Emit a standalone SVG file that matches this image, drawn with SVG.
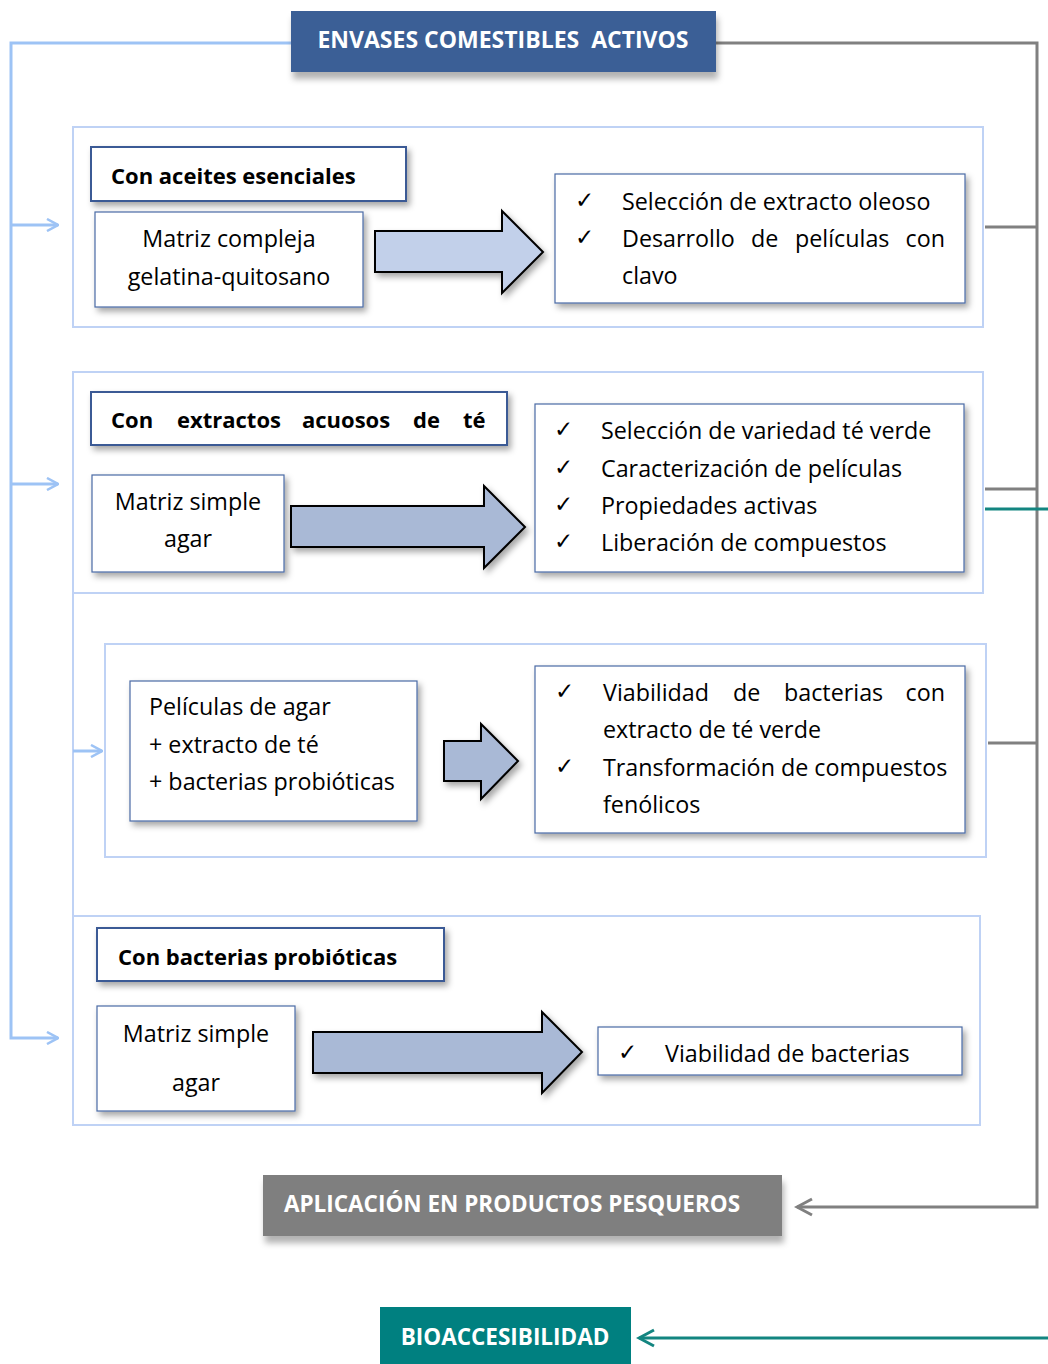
<svg xmlns="http://www.w3.org/2000/svg" width="1048" height="1364" viewBox="0 0 1048 1364">
<defs>
<filter id="sh" x="-10%" y="-20%" width="130%" height="150%"><feDropShadow dx="3" dy="4" stdDeviation="3" flood-color="#000" flood-opacity="0.35"/></filter>
<filter id="sh2" x="-10%" y="-20%" width="130%" height="160%"><feDropShadow dx="2" dy="7" stdDeviation="3" flood-color="#000" flood-opacity="0.3"/></filter>
<marker id="ab" markerWidth="14" markerHeight="14" refX="13" refY="7" orient="auto" markerUnits="userSpaceOnUse"><path d="M2,1 L13,7 L2,13" fill="none" stroke="#9DC3F5" stroke-width="2.5"/></marker>
<marker id="ag" markerWidth="20" markerHeight="20" refX="17" refY="10" orient="auto" markerUnits="userSpaceOnUse"><path d="M2,2 L17,10 L2,18" fill="none" stroke="#808080" stroke-width="3"/></marker>
<marker id="at" markerWidth="20" markerHeight="20" refX="17" refY="10" orient="auto" markerUnits="userSpaceOnUse"><path d="M2,2 L17,10 L2,18" fill="none" stroke="#138580" stroke-width="3"/></marker>
</defs>
<style>
text{font-family:"Open Sans","Liberation Sans",sans-serif;fill:#000}
.t{font-size:23.3px}
.h{font-size:22px;font-weight:bold}
.w{fill:#fff;font-weight:bold;font-size:22.5px;white-space:pre}
.grp{fill:#fff;stroke:#BFD2F5;stroke-width:2}
.hd{fill:#fff;stroke:#3B5A95;stroke-width:2}
.bx{fill:#fff;stroke:#4A6AA5;stroke-width:1.2}
.arr{stroke:#000;stroke-width:2}
.lb{fill:none;stroke:#9DC3F5;stroke-width:3}
.lg{fill:none;stroke:#808080;stroke-width:3}
.lt{fill:none;stroke:#138580;stroke-width:3}
</style>
<rect width="1048" height="1364" fill="#fff"/>
<g id="connectors">
<polyline class="lb" points="291,43 11,43 11,1038 58,1038" marker-end="url(#ab)"/>
<line class="lb" x1="11" y1="225" x2="58" y2="225" marker-end="url(#ab)"/>
<line class="lb" x1="11" y1="484" x2="58" y2="484" marker-end="url(#ab)"/>
<line x1="73" y1="593" x2="73" y2="916" stroke="#BFD2F5" stroke-width="2"/>
<line class="lb" x1="73" y1="751" x2="102" y2="751" stroke-width="2" marker-end="url(#ab)"/>
<polyline class="lg" points="716,43 1037,43 1037,1207 797,1207" marker-end="url(#ag)"/>
<line class="lg" x1="985" y1="227" x2="1037" y2="227"/>
<line class="lg" x1="985" y1="489" x2="1037" y2="489"/>
<line class="lg" x1="988" y1="743" x2="1037" y2="743"/>
<line class="lt" x1="985" y1="509" x2="1048" y2="509"/>
<line class="lt" x1="1048" y1="1338" x2="639" y2="1338" marker-end="url(#at)"/>
</g>
<g id="title" filter="url(#sh2)"><rect x="291" y="11" width="425" height="61" fill="#3A5F96"/></g>
<text class="w" x="503" y="48" text-anchor="middle" style="font-size:23px">ENVASES COMESTIBLES  ACTIVOS</text>

<g id="g1">
<rect class="grp" x="73" y="127" width="910" height="200"/>
<rect class="hd" x="91" y="147" width="315" height="54" filter="url(#sh)"/>
<text class="h" x="111" y="184">Con aceites esenciales</text>
<rect class="bx" x="95" y="212" width="268" height="95" filter="url(#sh)"/>
<text class="t" x="229" y="247" text-anchor="middle">Matriz compleja</text>
<text class="t" x="229" y="285" text-anchor="middle">gelatina-quitosano</text>
<path class="arr" d="M375,231 H502 V211 L543,252 L502,293 V272 H375 Z" fill="#C2D0EA" filter="url(#sh)"/>
<rect class="bx" x="555" y="174" width="410" height="129" filter="url(#sh)"/>
<text class="t" x="575" y="208">✓</text><text class="t" x="622" y="210">Selección de extracto oleoso</text>
<text class="t" x="575" y="245">✓</text>
<text class="t" x="622" y="247">Desarrollo</text><text class="t" x="751" y="247">de</text><text class="t" x="795" y="247">películas</text><text class="t" x="945" y="247" text-anchor="end">con</text>
<text class="t" x="622" y="284">clavo</text>
</g>

<g id="g2">
<rect class="grp" x="73" y="372" width="910" height="221"/>
<rect class="hd" x="91" y="392" width="416" height="53" filter="url(#sh)"/>
<text class="h" y="428"><tspan x="111">Con</tspan><tspan x="177">extractos</tspan><tspan x="302">acuosos</tspan><tspan x="413">de</tspan><tspan x="463">té</tspan></text>
<rect class="bx" x="92" y="475" width="192" height="97" filter="url(#sh)"/>
<text class="t" x="188" y="510" text-anchor="middle">Matriz simple</text>
<text class="t" x="188" y="547" text-anchor="middle">agar</text>
<path class="arr" d="M291,506 H484 V486 L525,527 L484,568 V547 H291 Z" fill="#A9B9D6" filter="url(#sh)"/>
<rect class="bx" x="535" y="404" width="429" height="168" filter="url(#sh)"/>
<text class="t" x="554" y="437">✓</text><text class="t" x="601" y="439">Selección de variedad té verde</text>
<text class="t" x="554" y="475">✓</text><text class="t" x="601" y="477">Caracterización de películas</text>
<text class="t" x="554" y="512">✓</text><text class="t" x="601" y="514">Propiedades activas</text>
<text class="t" x="554" y="549">✓</text><text class="t" x="601" y="551">Liberación de compuestos</text>
</g>

<g id="g3">
<rect class="grp" x="105" y="644" width="881" height="213"/>
<rect class="bx" x="130" y="681" width="287" height="140" filter="url(#sh)"/>
<text class="t" x="149" y="715">Películas de agar</text>
<text class="t" x="149" y="753">+ extracto de té</text>
<text class="t" x="149" y="790">+ bacterias probióticas</text>
<path class="arr" d="M444,741 H481 V724 L518,761 L481,799 V781 H444 Z" fill="#A9B9D6" filter="url(#sh)"/>
<rect class="bx" x="535" y="666" width="430" height="167" filter="url(#sh)"/>
<text class="t" x="555" y="699">✓</text>
<text class="t" x="603" y="701">Viabilidad</text><text class="t" x="733" y="701">de</text><text class="t" x="784" y="701">bacterias</text><text class="t" x="945" y="701" text-anchor="end">con</text>
<text class="t" x="603" y="738">extracto de té verde</text>
<text class="t" x="555" y="774">✓</text><text class="t" x="603" y="776">Transformación de compuestos</text>
<text class="t" x="603" y="813">fenólicos</text>
</g>

<g id="g4">
<rect class="grp" x="73" y="916" width="907" height="209"/>
<rect class="hd" x="97" y="928" width="347" height="53" filter="url(#sh)"/>
<text class="h" x="118" y="965">Con bacterias probióticas</text>
<rect class="bx" x="97" y="1006" width="198" height="105" filter="url(#sh)"/>
<text class="t" x="196" y="1042" text-anchor="middle">Matriz simple</text>
<text class="t" x="196" y="1091" text-anchor="middle">agar</text>
<path class="arr" d="M313,1032 H542 V1012 L582,1052 L542,1093 V1073 H313 Z" fill="#A9B9D6" filter="url(#sh)"/>
<rect class="bx" x="598" y="1027" width="364" height="48" filter="url(#sh)"/>
<text class="t" x="618" y="1060">✓</text><text class="t" x="665" y="1062">Viabilidad de bacterias</text>
</g>

<g id="aplicacion" filter="url(#sh2)"><rect x="263" y="1175" width="519" height="61" fill="#7F7F7F"/></g>
<text class="w" x="512" y="1212" text-anchor="middle">APLICACIÓN EN PRODUCTOS PESQUEROS</text>

<g id="bioaccesibilidad"><rect x="380" y="1307" width="251" height="60" fill="#008080"/>
<text class="w" x="505" y="1345" text-anchor="middle">BIOACCESIBILIDAD</text></g>
</svg>
